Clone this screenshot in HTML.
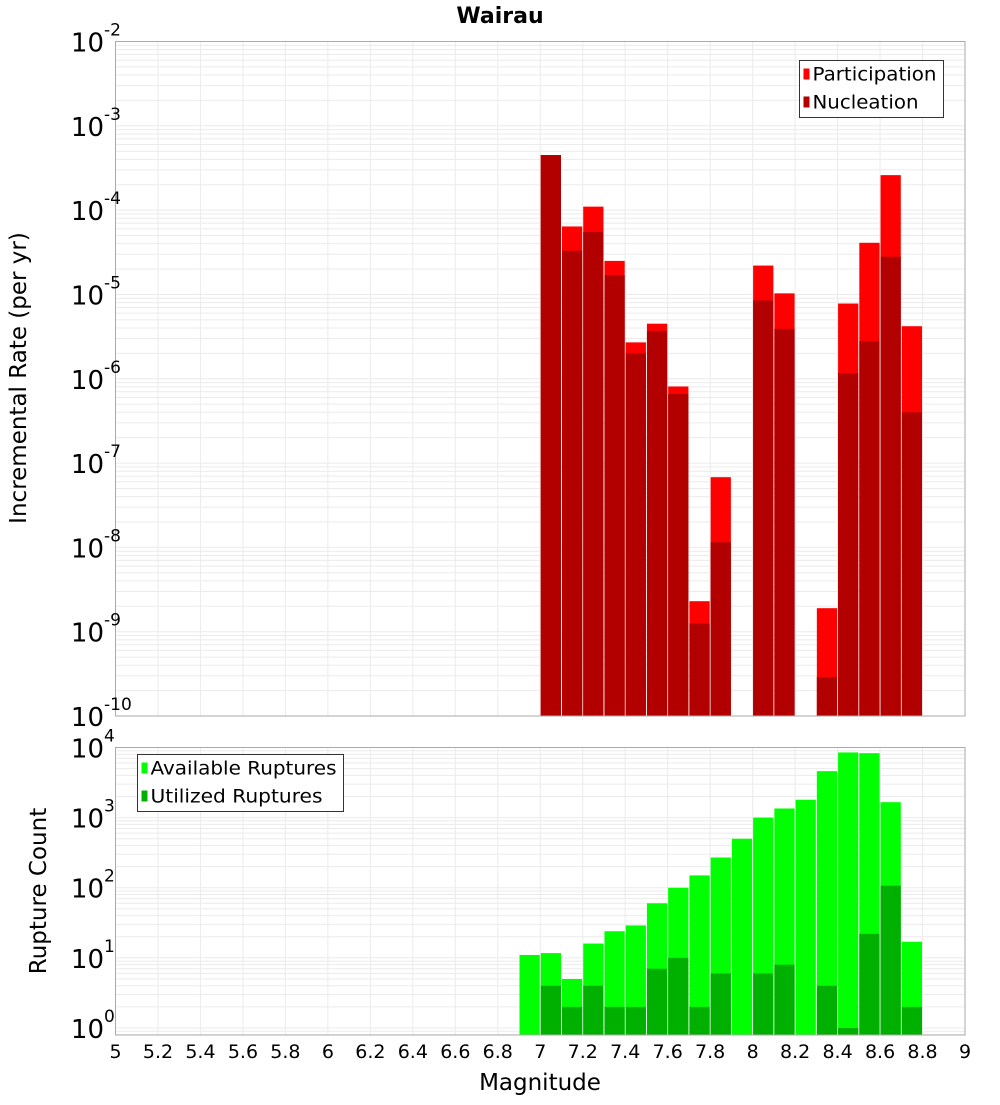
<!DOCTYPE html>
<html><head><meta charset="utf-8"><style>
body{margin:0;background:#fff;font-family:"Liberation Sans","DejaVu Sans",sans-serif}
svg text{font-family:"DejaVu Sans","Liberation Sans",sans-serif}
</style></head><body>
<svg id="c" width="1000" height="1100"></svg>
<script>
const bins=[7.0,7.1,7.2,7.3,7.4,7.5,7.6,7.7,7.8,8.0,8.1,8.3,8.4,8.5,8.6,8.7];
const participation=[4.5e-4,6.4e-5,1.1e-4,2.5e-5,2.7e-6,4.5e-6,8.1e-7,2.3e-9,6.8e-8,2.2e-5,1.03e-5,1.9e-9,7.8e-6,4.1e-5,2.6e-4,4.2e-6];
const nucleation=[4.5e-4,3.3e-5,5.5e-5,1.7e-5,2.0e-6,3.7e-6,6.6e-7,1.25e-9,1.15e-8,8.5e-6,3.9e-6,2.9e-10,1.17e-6,2.8e-6,2.8e-5,4.0e-7];
const rbins=[6.9,7.0,7.1,7.2,7.3,7.4,7.5,7.6,7.7,7.8,7.9,8.0,8.1,8.2,8.3,8.4,8.5,8.6,8.7];
const available=[11,11.7,5,16,24,29,60,100,150,270,500,1000,1350,1800,4600,8500,8300,1660,17];
const utilized=[0,4,2,4,2,2,7,10,2,6,0,6,8,0,4,1,22,107,2];
const xTicks=[5,5.2,5.4,5.6,5.8,6,6.2,6.4,6.6,6.8,7,7.2,7.4,7.6,7.8,8,8.2,8.4,8.6,8.8,9];
const topExps=[-2,-3,-4,-5,-6,-7,-8,-9,-10];
const botExps=[4,3,2,1,0];

const NS="http://www.w3.org/2000/svg",svg=document.getElementById('c');
function el(t,a,p){const e=document.createElementNS(NS,t);for(const k in a)e.setAttribute(k,a[k]);(p||svg).appendChild(e);return e;}
const X0=115.5,X1=965;
const xs=m=>X0+(m-5)/4*(X1-X0);
const T0=41.5,T1=716,tMax=-2,tMin=-10;
const yt=v=>T0+(tMax-Math.log10(v))/(tMax-tMin)*(T1-T0);
const B0=747.5,B1=1035,bMax=4,bMin=-0.1;
const yb=v=>B0+(bMax-Math.log10(v))/(bMax-bMin)*(B1-B0);

function grid(y0,y1,lo,hi,yf){
  const g=el('g',{});
  
  
  for(let d=Math.floor(lo);d<=hi;d++)for(let k=1;k<10;k++){const v=k*Math.pow(10,d);const lv=Math.log10(v);if(lv<lo||lv>hi)continue;const y=yf(v);el('line',{x1:X0,x2:X1,y1:y,y2:y,stroke:'#ebebeb','stroke-width':1},g);}
  xTicks.forEach(m=>{const x=xs(m);el('line',{x1:x,x2:x,y1:y0,y2:y1,stroke:'#ebebeb','stroke-width':1},g);});
}
grid(T0,T1,tMin,tMax,yt);
grid(B0,B1,bMin,bMax,yb);

bins.forEach((m,i)=>{
  const x=xs(m)+0.5,w=xs(m+0.1)-xs(m)-1;
  let y=yt(participation[i]);
  const r=el('rect',{x:x,y:y,width:w,height:T1-y,fill:'#ff0000'});
  
  
  y=yt(Math.max(nucleation[i],1e-10));
  const n=el('rect',{x:x,y:y,width:w,height:T1-y,fill:'#b20000'});
  
  
});
rbins.forEach((m,i)=>{
  const x=xs(m)+0.5,w=xs(m+0.1)-xs(m)-1;
  if(available[i]>0){const y=yb(available[i]);
  const r=el('rect',{x:x,y:y,width:w,height:B1-y,fill:'#00ff00'});
  
  }
  if(utilized[i]>0){const y=yb(utilized[i]);
  const u=el('rect',{x:x,y:y,width:w,height:B1-y,fill:'#00b000'});
  
  }
});
el('rect',{x:X0,y:T0,width:X1-X0,height:T1-T0,fill:'none',stroke:'#aaa'});
el('rect',{x:X0,y:B0,width:X1-X0,height:B1-B0,fill:'none',stroke:'#aaa'});
function ylab(e,y,nm){
  const t=el('text',{x:104,y:y+10,'font-size':26,'text-anchor':'end',fill:'#000'});
  
  
  t.textContent='10';
  const s=el('text',{x:104,y:y-6,'font-size':17,fill:'#000'});
  s.textContent=String(e);
}
topExps.forEach(e=>ylab(e,yt(Math.pow(10,e)),'top-y-tick'));
botExps.forEach(e=>ylab(e,yb(Math.pow(10,e)),'bottom-y-tick'));
xTicks.forEach(m=>{const t=el('text',{x:xs(m),y:1058,'font-size':19,'text-anchor':'middle',fill:'#000'});
  
  
  t.textContent=String(m);});
let t=el('text',{x:500,y:23,'font-size':22,'font-weight':'bold','text-anchor':'middle'});t.textContent='Wairau';


t=el('text',{x:540,y:1090,'font-size':23,'text-anchor':'middle'});t.textContent='Magnitude';


t=el('text',{x:0,y:0,'font-size':23,'text-anchor':'middle',transform:'translate(26,378) rotate(-90)'});t.textContent='Incremental Rate (per yr)';


t=el('text',{x:0,y:0,'font-size':23,'text-anchor':'middle',transform:'translate(46,891) rotate(-90)'});t.textContent='Rupture Count';


function legend(x,y,w,items,nm){
  const g=el('g',{});
  
  
  el('rect',{x:x,y:y,width:w,height:57,fill:'#fff',stroke:'#333'},g);
  items.forEach((it,i)=>{
    el('rect',{x:x+4,y:y+8+i*28,width:6,height:11,fill:it[1]},g);
    const tx=el('text',{x:x+13,y:y+20+i*28,'font-size':19,textLength:w-20,lengthAdjust:'spacingAndGlyphs'},g);tx.textContent=it[0];
    if(i===1)tx.setAttribute('textLength',nm==='top-legend'?w-38:w-34);
  });
}
legend(799.5,60.5,144,[['Participation','#ff0000'],['Nucleation','#b20000']],'top-legend');
legend(137.5,754.5,206,[['Available Ruptures','#00ff00'],['Utilized Ruptures','#00b000']],'bottom-legend');
</script>
</body></html>
